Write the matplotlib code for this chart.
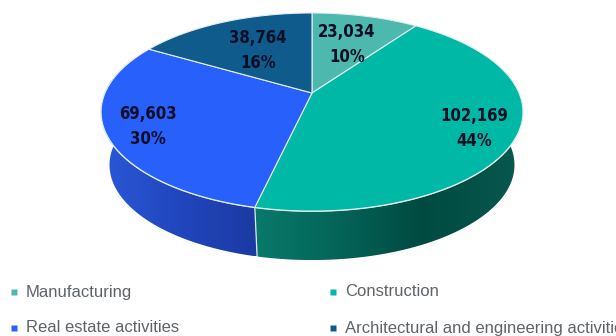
import matplotlib
matplotlib.use('Agg')
import matplotlib.pyplot as plt
import matplotlib.patches as mpatches
from matplotlib.colors import LinearSegmentedColormap
import numpy as np

categories = ['Manufacturing', 'Construction', 'Real estate activities',
              'Architectural and engineering activities']
values = [23034, 102169, 69603, 38764]
percents = ['10%', '44%', '30%', '16%']

face_colors = ['#4db8ae', '#00b8a6', '#2860fb', '#0e5b8c']

# label anchors and legend slots, in figure pixels
label_pos = [(347, 45), (474, 128), (148, 127), (258, 50)]
legend_pos = [(14, 292), (333, 292), (14, 328), (333, 328)]

# pie geometry: tilted disc seen in perspective
CX, CY = 312, 93
RX, RY = 207, 95.4
PERSP = 0.192
DEPTH = 53.7
SHRINK = 0.96


def rim(theta, bottom=False):
    """Screen position of a rim point, theta clockwise from 12 o'clock"""
    w = 1 + PERSP * np.cos(theta)
    x = RX * np.sin(theta) / w
    y = -RY * np.cos(theta) / w
    if bottom:
        return CX + SHRINK * x, CY + DEPTH + SHRINK * y
    return CX + x, CY + y


def draw_side(ax, start, end, stops):
    """Draw one stretch of the pie wall with a left to right gradient"""
    theta = np.linspace(start, end, 120)
    top_x, top_y = rim(theta)
    low_x, low_y = rim(theta, bottom=True)
    xs = np.concatenate([top_x, low_x[::-1]])
    ys = np.concatenate([top_y, low_y[::-1]])
    wall = mpatches.Polygon(np.column_stack([xs, ys]), closed=True,
                            facecolor='none', edgecolor='none',
                            transform=ax.transData)
    ax.add_patch(wall)
    cmap = LinearSegmentedColormap.from_list('wall', stops)
    grad = np.linspace(0, 1, 256).reshape(1, -1)
    im = ax.imshow(grad, cmap=cmap, aspect='auto', zorder=1,
                   extent=[xs.min(), xs.max(), ys.max(), ys.min()])
    im.set_clip_path(wall)


fig = plt.figure(figsize=(6.16, 3.36), dpi=100)
ax = fig.add_axes([0, 0, 1, 1])

edges = 2 * np.pi * np.cumsum([0] + values) / sum(values)

# walls first, the top face covers whatever sits behind it
draw_side(ax, edges[2], np.radians(285),
          [(0, '#2a58d8'), (0.5, '#2146bd'), (1, '#1b3aa2')])
draw_side(ax, np.radians(75), edges[2],
          [(0, '#08796b'), (0.25, '#05695c'), (0.62, '#004a41'), (1, '#07594f')])

# seam between the two visible wall pieces
seam_x0, seam_y0 = rim(edges[2])
seam_x1, seam_y1 = rim(edges[2], bottom=True)
ax.plot([seam_x0, seam_x1], [seam_y0, seam_y1], color='#dfeaea', lw=0.9, zorder=2)

# bright rim along the front of the top face
front = np.linspace(np.radians(85), np.radians(285), 200)
ax.plot(*rim(front), color='#e4eeee', lw=1.2, zorder=3)

for i, color in enumerate(face_colors):
    theta = np.linspace(edges[i], edges[i + 1], 120)
    x, y = rim(theta)
    pts = np.column_stack([np.r_[CX, x], np.r_[CY, y]])
    ax.add_patch(mpatches.Polygon(pts, closed=True, facecolor=color,
                                  edgecolor='#e4eeee', linewidth=0.8, zorder=4))

for value, pct, (lx, ly) in zip(values, percents, label_pos):
    ax.text(lx, ly, f'{value:,}\n{pct}', ha='center', va='center', fontsize=12,
            fontweight='bold', color='#0b0f26', family='DejaVu Sans',
            stretch='condensed', linespacing=1.5, zorder=5)

for name, color, (mx, my) in zip(categories, face_colors, legend_pos):
    ax.plot(mx, my, marker='s', ms=4.5, color=color, mec='none', zorder=5)
    ax.text(mx + 12, my, name, ha='left', va='center', fontsize=12,
            color='#5f6368', family='Liberation Sans', clip_on=False)

ax.set_xlim(0, 616)
ax.set_ylim(336, 0)
ax.axis('off')

fig.savefig('out.png', dpi=100, facecolor='white')
